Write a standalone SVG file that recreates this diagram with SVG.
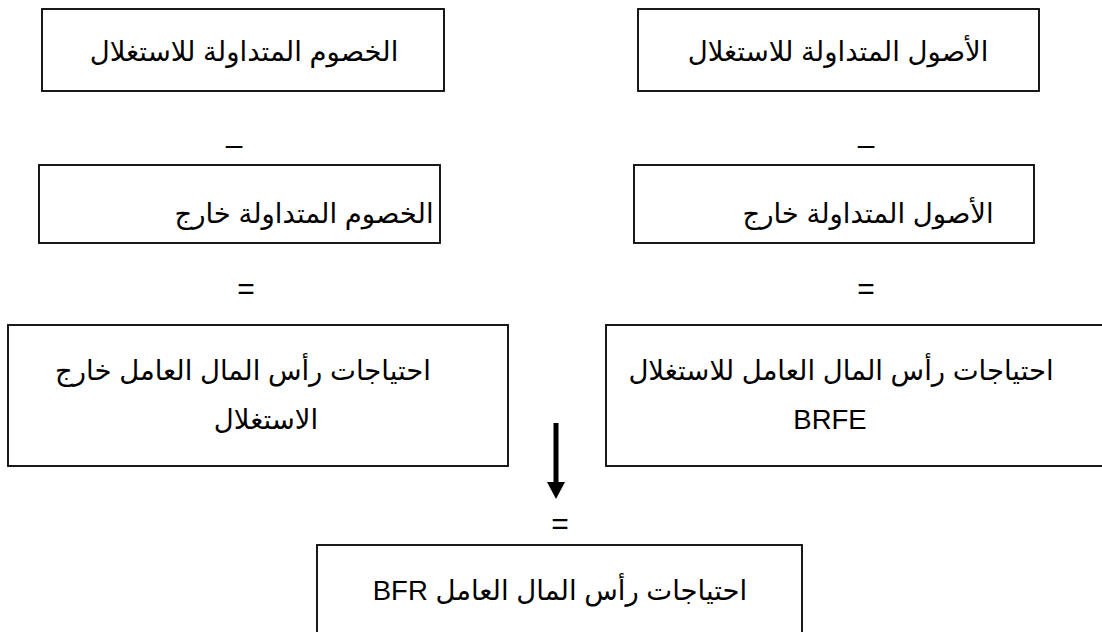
<svg xmlns="http://www.w3.org/2000/svg" width="1102" height="632" viewBox="0 0 1102 632">
  <style>
    .box { fill: #ffffff; stroke: #000000; stroke-width: 1.8; }
    .lbl { font-family: "Liberation Sans", Arial, "DejaVu Sans", sans-serif; font-size: 27.5px; fill: #000000; text-anchor: middle; direction: rtl; unicode-bidi: embed; }
    .op { font-family: "Liberation Sans", Arial, sans-serif; font-size: 30px; fill: #000000; text-anchor: middle; }
  </style>
  <rect x="0" y="0" width="1102" height="632" fill="#ffffff"/>

  <!-- operating current liabilities -->
  <g id="liab-operating">
    <rect class="box" x="42" y="9" width="402" height="82"/>
    <text class="lbl" x="244" y="61">الخصوم المتداولة للاستغلال</text>
  </g>

  <!-- operating current assets -->
  <g id="assets-operating">
    <rect class="box" x="638" y="9" width="401" height="82"/>
    <text class="lbl" x="838" y="61">الأصول المتداولة للاستغلال</text>
  </g>

  <!-- non-operating current liabilities -->
  <g id="liab-nonoperating">
    <rect class="box" x="39" y="165" width="401" height="78"/>
    <text class="lbl" x="304" y="223">الخصوم المتداولة خارج</text>
  </g>

  <!-- non-operating current assets -->
  <g id="assets-nonoperating">
    <rect class="box" x="634" y="165" width="400" height="78"/>
    <text class="lbl" x="868" y="223">الأصول المتداولة خارج</text>
  </g>

  <!-- non-operating working capital needs -->
  <g id="need-nonoperating">
    <rect class="box" x="8" y="325" width="500" height="141"/>
    <text class="lbl" x="243" y="380">احتياجات رأس المال العامل خارج</text>
    <text class="lbl" x="266" y="429">الاستغلال</text>
  </g>

  <!-- operating working capital needs -->
  <g id="need-operating">
    <rect class="box" x="606" y="325" width="520" height="141"/>
    <text class="lbl" x="841" y="380">احتياجات رأس المال العامل للاستغلال</text>
    <text class="lbl" x="830" y="429">BRFE</text>
  </g>

  <!-- total working capital needs -->
  <g id="need-total">
    <rect class="box" x="317" y="545" width="485" height="120"/>
    <text class="lbl" x="560" y="600">احتياجات رأس المال العامل BFR</text>
  </g>

  <!-- operators between rows -->
  <g id="operators">
    <text class="op" x="234" y="155">–</text>
    <text class="op" x="866" y="155">–</text>
    <text class="op" x="246" y="299">=</text>
    <text class="op" x="866" y="299">=</text>
    <text class="op" x="560" y="534">=</text>
  </g>

  <!-- connectors -->
  <g id="connectors">
    <rect x="553.5" y="423" width="5" height="60" fill="#000000"/>
    <polygon points="547,482 565,482 556,499" fill="#000000"/>
  </g>
</svg>
